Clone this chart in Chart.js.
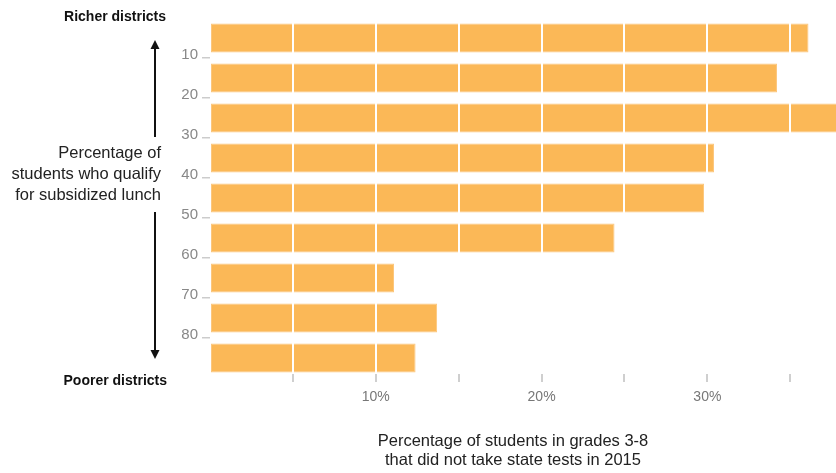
<!DOCTYPE html>
<html><head><meta charset="utf-8">
<script src="https://cdn.jsdelivr.net/npm/chart.js@4"></script>
<style>html,body{margin:0;padding:0;background:#fff}#wrap{width:836px;height:473px;position:relative}</style>
</head><body><div id="wrap"><canvas id="c" width="836" height="473"></canvas></div>
<script>
// ---- data ----
const categories = ['0-10', '10-20', '20-30', '30-40', '40-50', '50-60', '60-70', '70-80', '80-90'];
const optOutPct = [36.1, 34.2, 38.5, 30.4, 29.8, 24.4, 11.1, 13.7, 12.4];
const lunchTicks = [10, 20, 30, 40, 50, 60, 70, 80];
const xTickLabels = { 10: '10%', 20: '20%', 30: '30%' };
const xMinorTicks = [5, 10, 15, 20, 25, 30, 35];
const xMax = 37.76;
const leftLabel = ['Percentage of', 'students who qualify', 'for subsidized lunch'];
const xTitle = ['Percentage of students in grades 3-8', 'that did not take state tests in 2015'];
const topLabel = 'Richer districts';
const bottomLabel = 'Poorer districts';

const FONT = "'Liberation Sans', Arial, sans-serif";

const annotations = {
  id: 'annotations',
  afterDraw(chart) {
    const ctx = chart.ctx;
    const xs = chart.scales.x;
    ctx.save();
    // x tick marks below bars
    ctx.strokeStyle = '#cfcfcf';
    ctx.lineWidth = 2;
    xMinorTicks.forEach(v => {
      const px = Math.round(xs.getPixelForValue(v));
      ctx.beginPath();
      ctx.moveTo(px, 374);
      ctx.lineTo(px, 382);
      ctx.stroke();
    });
    // bold labels
    ctx.fillStyle = '#111';
    ctx.textAlign = 'right';
    ctx.textBaseline = 'middle';
    ctx.font = 'bold 14px ' + FONT;
    ctx.fillText(topLabel, 166, 17);
    ctx.fillText(bottomLabel, 167, 381);
    // left label
    ctx.fillStyle = '#222';
    ctx.font = '16.5px ' + FONT;
    leftLabel.forEach((t, i) => ctx.fillText(t, 161, 153 + i * 21));
    // arrows
    ctx.strokeStyle = '#111';
    ctx.fillStyle = '#111';
    ctx.lineWidth = 2;
    ctx.beginPath(); ctx.moveTo(155, 47); ctx.lineTo(155, 137); ctx.stroke();
    ctx.beginPath(); ctx.moveTo(155, 40); ctx.lineTo(150.5, 49); ctx.lineTo(159.5, 49); ctx.closePath(); ctx.fill();
    ctx.beginPath(); ctx.moveTo(155, 212); ctx.lineTo(155, 352); ctx.stroke();
    ctx.beginPath(); ctx.moveTo(155, 359); ctx.lineTo(150.5, 350); ctx.lineTo(159.5, 350); ctx.closePath(); ctx.fill();
    // x title
    ctx.textAlign = 'center';
    ctx.fillStyle = '#222';
    ctx.font = '16.5px ' + FONT;
    xTitle.forEach((t, i) => ctx.fillText(t, 513, 441 + i * 19.5));
    ctx.restore();
  }
};

new Chart(document.getElementById('c'), {
  type: 'bar',
  data: {
    labels: categories,
    datasets: [{
      data: optOutPct,
      backgroundColor: '#fbb857',
      borderColor: '#fcc67c',
      borderWidth: 1,
      borderSkipped: false,
      barPercentage: 0.72,
      categoryPercentage: 1.0
    }]
  },
  options: {
    indexAxis: 'y',
    responsive: false,
    animation: false,
    devicePixelRatio: 1,
    layout: { padding: { top: 18, right: 0, left: 0, bottom: 0 } },
    plugins: { legend: { display: false }, tooltip: { enabled: false } },
    scales: {
      x: {
        type: 'linear',
        position: 'bottom',
        min: 0,
        max: xMax,
        border: { display: false },
        grid: {
          z: 1,
          color: c => (c.tick && c.tick.value > 0) ? '#ffffff' : 'rgba(0,0,0,0)',
          lineWidth: 2,
          drawTicks: false
        },
        ticks: {
          stepSize: 5,
          includeBounds: false,
          autoSkip: false,
          maxRotation: 0,
          padding: 11,
          color: '#777',
          font: { family: FONT, size: 14 },
          callback: v => xTickLabels[v] || ''
        },
        afterFit: s => { s.height = 95; }
      },
      y: {
        type: 'category',
        display: false
      },
      y2: {
        type: 'linear',
        position: 'left',
        min: 0,
        max: 90,
        reverse: true,
        offset: false,
        border: { display: false },
        grid: { offset: false, drawOnChartArea: false, tickLength: 8, tickColor: '#cccccc', lineWidth: 1.5 },
        ticks: {
          stepSize: 10,
          padding: 4,
          labelOffset: -3,
          color: '#888',
          font: { family: FONT, size: 15 },
          callback: v => String(v)
        },
        afterBuildTicks: s => { s.ticks = s.ticks.filter(t => lunchTicks.includes(t.value)); },
        afterFit: s => { s.width = 210; }
      }
    }
  },
  plugins: [annotations]
});
</script>
</body></html>
